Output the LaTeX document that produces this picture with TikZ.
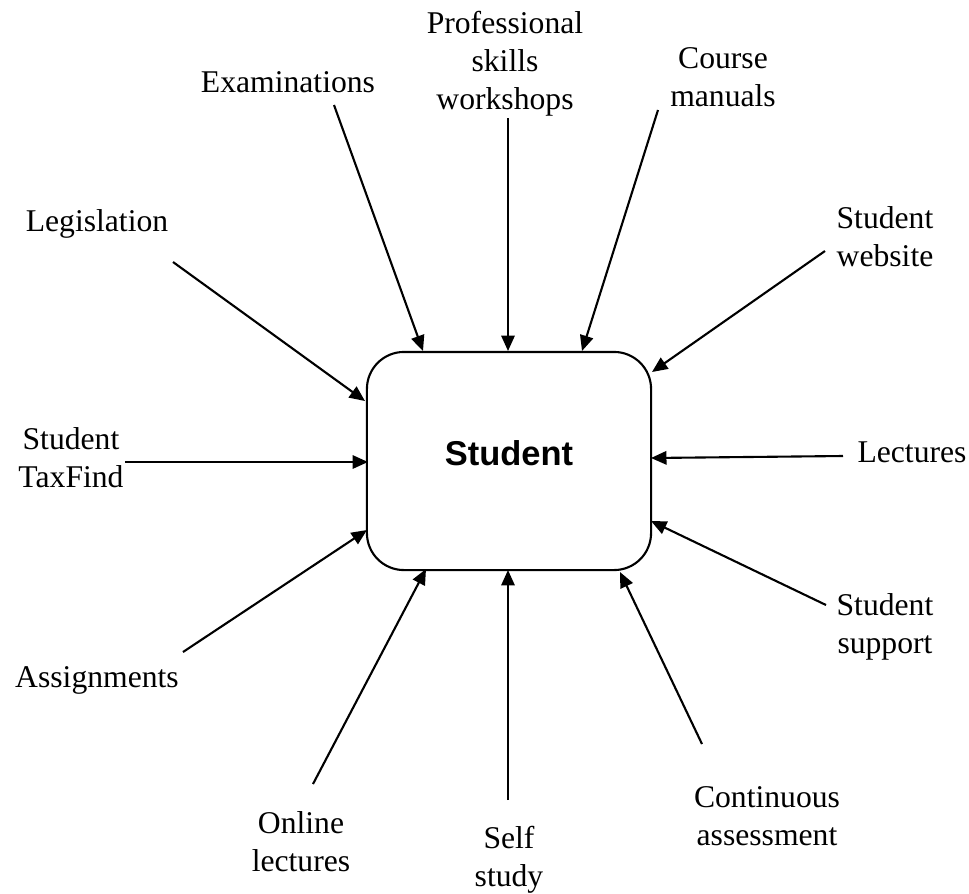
\documentclass[tikz,border=0pt]{standalone}
\usepackage{fontspec}
\setmainfont{Liberation Serif}
\newfontfamily\arialfont{Liberation Sans}
\usetikzlibrary{arrows.meta}
\begin{document}
\begin{tikzpicture}[x=0.01cm,y=-0.01cm,
  lbl/.style={align=center,inner sep=0pt,font=\fontsize{9pt}{10.8pt}\selectfont},
  conn/.style={line width=0.6pt,-{Triangle[length=4.4pt,width=3.8pt]}},
  hub/.style={draw,line width=0.6pt,rounded corners=0.37cm,minimum width=2.84cm,minimum height=2.18cm,inner sep=0pt,text height=0.30cm,text depth=0.22cm,font=\arialfont\bfseries\fontsize{9.8pt}{12pt}\selectfont}]
\useasboundingbox (0,0) rectangle (969,893);
\node[hub] (S) at (509,461) {Student};
% labels
\node[lbl] (exam) at (288,82) {Examinations};
\node[lbl] (prof) at (505,64) {Professional\\skills\\workshops};
\node[lbl] (course) at (723,77) {Course\\manuals};
\node[lbl] (legis) at (97,224) {Legislation};
\node[lbl] (web) at (885,237) {Student\\website};
\node[lbl] (tax) at (71,458) {Student\\TaxFind};
\node[lbl] (lect) at (912,452) {Lectures};
\node[lbl] (supp) at (885,627) {Student\\support};
\node[lbl] (assign) at (97,680) {Assignments};
\node[lbl] (online) at (301,842) {Online\\lectures};
\node[lbl] (self) at (509,860) {Self\\study};
\node[lbl] (cont) at (767,816) {Continuous\\assessment};
% connector endpoints
\coordinate (a1) at (334,105); \coordinate (b1) at (423,351);
\coordinate (a2) at (508,118); \coordinate (b2) at (508,351);
\coordinate (a3) at (658,110); \coordinate (b3) at (582,351);
\coordinate (a4) at (173,262); \coordinate (b4) at (365,401);
\coordinate (a5) at (825,251); \coordinate (b5) at (652,372);
\coordinate (a6) at (125,462); \coordinate (b6) at (368,462);
\coordinate (a7) at (843,456); \coordinate (b7) at (651,458);
\coordinate (a8) at (183,652); \coordinate (b8) at (367,530);
\coordinate (a9) at (826,605); \coordinate (b9) at (651,521);
\coordinate (a10) at (313,784); \coordinate (b10) at (426,569);
\coordinate (a11) at (508,800); \coordinate (b11) at (508,570);
\coordinate (a12) at (702,744); \coordinate (b12) at (620,572);
\foreach \i in {1,...,12} {\draw[conn] (a\i) -- (b\i);}
\end{tikzpicture}
\end{document}
